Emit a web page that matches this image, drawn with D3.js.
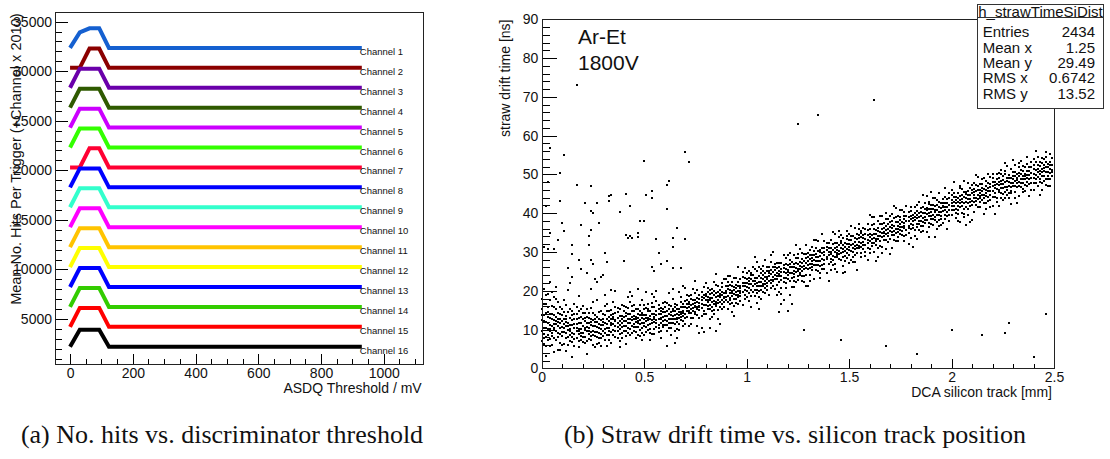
<!DOCTYPE html>
<html>
<head>
<meta charset="utf-8">
<script src="https://cdn.jsdelivr.net/npm/d3@7"></script>
<style>
  body { margin: 0; background: #fff; }
  svg { display: block; }
  text { font-family: "Liberation Sans", Arial, Helvetica, sans-serif; fill: #111; }
  .cap { font-family: "Liberation Serif", "Times New Roman", serif; }
</style>
</head>
<body>
<svg id="fig" width="1110" height="459"></svg>
<script>
// ----------- DATA: (a) threshold scan -----------
const thresholdsMv = [0, 31, 62, 93, 124, 930];
const channelStep = 2010; // "+Channel x 2010"
const channelHits = [
  [190, 1760, 2160, 2160, 190, 190],
  [190, 190, 2130, 2130, 190, 190],
  [190, 2110, 2110, 2110, 190, 190],
  [190, 2100, 2100, 2100, 190, 190],
  [190, 2100, 2100, 2100, 190, 190],
  [190, 2100, 2100, 2100, 190, 190],
  [190, 190, 2120, 2120, 190, 190],
  [190, 2100, 2100, 2100, 190, 190],
  [190, 2100, 2100, 2100, 190, 190],
  [190, 2100, 2100, 2100, 190, 190],
  [190, 2100, 2100, 2100, 190, 190],
  [190, 2100, 2100, 2100, 190, 190],
  [190, 2100, 2100, 2100, 190, 190],
  [190, 2100, 2100, 2100, 190, 190],
  [190, 2100, 2100, 2100, 190, 190],
  [190, 1900, 1900, 1900, 190, 190]
];
const channelColors = ["#1560d0", "#8b0000", "#6a00aa", "#2f5a00", "#cc00ff", "#33ff00", "#ff0033", "#0000ff",
                       "#33ffcc", "#ff00ff", "#ffc400", "#ffff00", "#0000ff", "#33cc00", "#ff0000", "#000000"];
const yTicksA = [5000, 10000, 15000, 20000, 25000, 30000, 35000];
const xTicksA = [0, 200, 400, 600, 800, 1000];

// ----------- DATA: (b) drift time vs DCA -----------
// points as [DCA in 0.01 mm, drift time in 0.1 ns]
const bandHits = [
[0,95],[0,152],[0,178],[1,62],[1,121],[1,88],[1,204],[2,143],[2,103],[2,31],[2,165],[3,74],[3,118],[3,192],[3,132],[4,96],[4,57],[4,141],[4,222],[5,108],[5,83],[5,160],[5,126],[6,41],[6,99],[6,137],[6,185],[7,115],[7,72],[7,152],[7,210],[8,92],[8,128],[8,48],[8,171],[9,105],[9,139],[9,66],[9,118],[1,137],[3,101],[5,92],[7,95],[2,81],[4,112],[6,124],[8,110],[0,124],[9,157],[6,79],[3,159],[5,197],[8,143],[2,120],[4,175],[7,133],[1,103],[9,88],[0,71],[6,113],
[10,83],[10,121],[10,152],[11,94],[11,62],[11,177],[12,108],[12,135],[12,45],[13,99],[13,117],[13,203],[14,86],[14,130],[14,71],[15,112],[15,148],[15,92],[15,28],[16,104],[16,126],[16,167],[17,79],[17,96],[17,141],[18,118],[18,88],[18,55],[18,186],[19,101],[19,132],[19,73],[10,106],[11,128],[12,91],[13,82],[14,112],[15,67],[16,89],[17,115],[18,102],[19,154],[10,61],[12,162],[14,95],[16,141],[18,131],[11,103],[13,146],[15,124],[17,158],[19,92],[12,119],[14,219],[16,76],[18,97],
[20,92],[20,126],[20,68],[21,105],[21,143],[21,81],[22,117],[22,95],[22,38],[23,131],[23,88],[23,104],[24,72],[24,111],[24,156],[25,97],[25,124],[25,61],[26,108],[26,83],[26,137],[27,119],[27,94],[27,176],[28,103],[28,66],[28,128],[29,112],[29,89],[29,147],[20,109],[21,121],[22,132],[23,76],[24,94],[25,85],[26,119],[27,62],[28,91],[29,101],[20,161],[22,71],[24,128],[26,56],[28,114],[21,99],[23,117],[25,143],[27,107],[29,78],[26,231],[27,222],[22,245],[29,236],[24,205],
[30,97],[30,141],[31,118],[31,73],[31,160],[32,128],[32,104],[33,87],[33,149],[33,121],[34,112],[34,64],[34,137],[35,99],[35,126],[35,171],[36,143],[36,109],[36,82],[37,131],[37,117],[37,95],[38,152],[38,123],[38,71],[39,106],[39,135],[39,118],[30,126],[31,102],[32,147],[32,85],[33,105],[34,126],[34,93],[35,114],[36,125],[36,158],[37,78],[37,146],[38,101],[38,112],[39,92],[39,164],[30,111],[33,133],[35,141],[31,190],[36,199],[38,54],[34,203],[32,58],
[40,121],[40,96],[40,148],[41,134],[41,109],[41,83],[42,127],[42,155],[42,116],[43,102],[43,139],[43,171],[44,124],[44,91],[44,147],[45,113],[45,136],[45,128],[46,79],[46,119],[46,152],[47,141],[47,107],[47,131],[48,98],[48,125],[48,162],[49,117],[49,143],[49,104],[40,133],[41,122],[41,158],[42,92],[43,118],[44,109],[45,97],[45,164],[46,133],[46,106],[47,123],[47,86],[48,137],[48,113],[49,129],[49,175],[43,196],[47,204],[41,62],[49,73],[44,186],[42,184],
[50,126],[50,152],[50,109],[51,138],[51,94],[51,121],[52,147],[52,131],[52,166],[53,114],[53,136],[53,102],[54,158],[54,125],[54,89],[55,141],[55,119],[55,133],[56,106],[56,148],[56,174],[57,128],[57,112],[57,139],[58,155],[58,97],[58,131],[59,121],[59,144],[59,168],[50,138],[51,156],[52,112],[52,98],[53,127],[54,141],[55,157],[55,101],[56,125],[57,152],[57,93],[58,118],[58,139],[59,106],[59,133],[54,191],[56,199],[51,197],[58,77],[53,72],[55,183],[50,86],
[60,134],[60,158],[60,112],[61,147],[61,121],[61,169],[62,139],[62,103],[62,152],[63,128],[63,161],[63,144],[64,117],[64,136],[64,178],[65,149],[65,126],[65,95],[66,141],[66,163],[66,131],[67,113],[67,154],[67,138],[68,172],[68,124],[68,146],[69,135],[69,109],[69,157],[60,146],[61,96],[62,127],[63,116],[64,153],[65,137],[65,167],[66,119],[66,102],[67,129],[68,141],[68,184],[69,148],[69,121],[62,193],[64,204],[67,196],[61,58],[66,79],[63,87],[69,212],[65,66],
[70,141],[70,174],[70,114],[71,167],[71,133],[71,155],[72,149],[72,187],[72,109],[72,165],[73,178],[73,143],[73,162],[74,130],[74,166],[74,205],[75,161],[75,139],[75,176],[75,157],[76,201],[76,154],[76,110],[77,150],[77,168],[77,190],[78,175],[78,134],[78,184],[78,165],[79,148],[79,181],[79,210],[70,206],[73,115],[75,225],[77,157],[79,94],[71,190],[74,156],[76,182],[78,104],[72,159],
[80,175],[80,139],[80,192],[81,161],[81,208],[81,170],[82,191],[82,152],[82,175],[82,126],[83,170],[83,205],[83,159],[84,188],[84,139],[84,223],[85,160],[85,183],[85,194],[85,172],[86,213],[86,168],[86,127],[87,183],[87,203],[87,157],[87,192],[88,198],[88,153],[88,210],[89,172],[89,194],[89,229],[80,219],[82,201],[84,166],[85,242],[87,114],[89,185],[81,185],[83,132],[86,186],[88,177],
[90,176],[90,211],[90,193],[91,222],[91,186],[91,153],[92,176],[92,203],[92,238],[93,199],[93,169],[93,213],[93,146],[94,210],[94,192],[94,233],[95,178],[95,206],[95,198],[96,222],[96,166],[96,211],[96,260],[97,195],[97,231],[97,186],[98,211],[98,162],[98,221],[99,202],[99,233],[99,180],[99,211],[90,230],[92,182],[94,135],[95,234],[97,206],[99,258],[91,204],[93,195],[96,190],[98,235],
[100,221],[100,185],[100,245],[101,208],[101,233],[101,174],[102,241],[102,203],[102,218],[102,158],[103,197],[103,225],[103,260],[104,234],[104,187],[104,217],[105,213],[105,250],[105,233],[105,203],[106,261],[106,200],[106,223],[107,211],[107,232],[107,180],[107,246],[108,231],[108,198],[108,252],[109,218],[109,245],[109,280],[109,194],[100,210],[103,211],[105,274],[107,257],[109,225],[101,218],[104,286],[106,154],[108,217],[102,246],
[110,201],[110,250],[110,236],[111,261],[111,225],[111,190],[112,242],[112,219],[112,275],[113,236],[113,260],[113,212],[113,299],[114,253],[114,205],[114,241],[115,230],[115,272],[115,189],[116,252],[116,223],[116,260],[116,238],[117,208],[117,271],[117,249],[118,259],[118,233],[118,292],[118,175],[119,246],[119,270],[119,221],[110,221],[112,291],[114,261],[116,196],[117,255],[119,285],[111,246],[113,224],[115,246],[118,222],
[120,266],[120,230],[120,249],[120,291],[121,224],[121,261],[121,279],[122,245],[122,275],[122,209],[123,261],[123,242],[123,292],[123,252],[124,223],[124,271],[124,259],[125,284],[125,237],[125,268],[126,256],[126,307],[126,245],[126,265],[127,283],[127,225],[127,262],[128,255],[128,277],[128,296],[129,272],[129,241],[129,285],[129,212],[121,190],[124,318],[127,297],[125,252],[123,225],[129,317],
[130,255],[130,298],[130,276],[131,283],[131,240],[131,292],[131,269],[132,254],[132,277],[132,313],[133,291],[133,267],[133,229],[134,277],[134,309],[134,254],[134,287],[135,302],[135,267],[135,327],[136,246],[136,289],[136,277],[137,297],[137,266],[137,310],[137,347],[138,279],[138,291],[138,257],[139,306],[139,288],[139,246],[139,323],[130,212],[133,330],[136,305],[138,328],[132,262],[135,277],
[140,300],[140,269],[140,322],[141,282],[141,310],[141,254],[141,296],[142,321],[142,290],[142,278],[143,269],[143,311],[143,346],[144,305],[144,286],[144,248],[144,323],[145,294],[145,338],[145,302],[146,323],[146,278],[146,311],[147,288],[147,308],[147,335],[147,264],[148,322],[148,302],[148,277],[149,308],[149,333],[149,297],[149,353],[140,226],[142,351],[144,297],[146,343],[148,248],[143,288],
[150,293],[150,320],[150,347],[150,312],[151,330],[151,280],[151,317],[152,310],[152,342],[152,299],[153,361],[153,308],[153,326],[153,274],[154,297],[154,333],[154,319],[155,344],[155,309],[155,371],[156,324],[156,355],[156,288],[156,339],[157,336],[157,307],[157,319],[158,300],[158,347],[158,333],[159,357],[159,322],[159,279],[159,371],[151,367],[154,253],[157,363],[152,275],[159,331],[155,326],
[160,347],[160,308],[160,339],[161,323],[161,370],[161,333],[161,390],[162,360],[162,299],[162,347],[163,333],[163,356],[163,318],[164,380],[164,342],[164,287],[164,362],[165,328],[165,351],[165,373],[166,314],[166,358],[166,338],[166,393],[167,352],[167,330],[167,375],[168,347],[168,368],[168,307],[169,385],[169,341],[169,359],[169,325],[160,396],[163,276],[165,394],[167,348],[168,386],[162,323],
[170,333],[170,365],[170,392],[171,362],[171,343],[171,310],[171,380],[172,354],[172,388],[172,331],[173,378],[173,360],[173,413],[174,327],[174,376],[174,352],[174,366],[175,391],[175,347],[175,373],[176,365],[176,408],[176,343],[177,384],[177,328],[177,375],[177,361],[178,357],[178,393],[178,419],[179,380],[179,350],[179,368],[170,295],[172,419],[174,394],[177,402],[179,321],[175,365],
[180,384],[180,359],[180,406],[180,336],[181,370],[181,395],[181,379],[182,415],[182,357],[182,391],[183,371],[183,387],[183,333],[183,406],[184,428],[184,380],[184,357],[185,367],[185,402],[185,393],[186,417],[186,354],[186,387],[186,446],[187,382],[187,401],[187,375],[188,413],[188,351],[188,397],[189,392],[189,430],[189,375],[189,410],[181,312],[184,401],[186,376],[188,445],[183,420],[189,338],
[190,385],[190,420],[190,402],[191,410],[191,369],[191,440],[191,396],[192,383],[192,418],[192,402],[193,433],[193,396],[193,358],[194,404],[194,452],[194,382],[194,417],[195,426],[195,393],[195,413],[196,374],[196,419],[196,437],[197,426],[197,407],[197,386],[197,466],[198,404],[198,436],[198,416],[199,422],[199,396],[199,452],[190,455],[192,339],[195,369],[196,416],[198,359],[193,422],
[200,433],[200,395],[200,418],[200,461],[201,407],[201,430],[201,452],[202,427],[202,387],[202,443],[203,418],[203,451],[203,407],[203,428],[204,464],[204,416],[204,378],[205,429],[205,446],[205,401],[206,455],[206,427],[206,482],[206,390],[207,417],[207,440],[207,449],[208,447],[208,410],[208,437],[209,429],[209,466],[209,436],[209,377],[201,481],[203,380],[205,463],[207,370],[208,477],[204,434],
[210,420],[210,451],[210,473],[211,448],[211,429],[211,403],[211,462],[212,440],[212,473],[212,422],[213,461],[213,446],[213,494],[214,417],[214,460],[214,439],[214,451],[215,474],[215,433],[215,457],[216,447],[216,491],[216,426],[217,471],[217,411],[217,460],[217,444],[218,441],[218,479],[218,501],[219,467],[219,434],[219,456],[210,382],[212,498],[214,475],[216,398],[218,456],[219,494],
[220,470],[220,443],[220,492],[220,419],[221,453],[221,481],[221,464],[222,501],[222,440],[222,475],[223,454],[223,472],[223,419],[223,491],[224,511],[224,465],[224,440],[225,450],[225,485],[225,475],[226,501],[226,438],[226,467],[226,529],[227,468],[227,484],[227,460],[228,498],[228,438],[228,481],[229,477],[229,513],[229,458],[229,492],[221,399],[224,484],[227,522],[229,424],[223,504],[225,433],
[230,470],[230,506],[230,487],[231,495],[231,455],[231,523],[231,482],[232,468],[232,501],[232,486],[233,518],[233,481],[233,444],[234,489],[234,534],[234,467],[234,500],[235,509],[235,478],[235,495],[236,458],[236,500],[236,519],[237,508],[237,490],[237,469],[237,546],[238,487],[238,518],[238,498],[239,503],[239,479],[239,533],[230,538],[232,427],[235,455],[236,497],[238,444],[233,504],
[240,513],[240,478],[240,501],[240,541],[241,488],[241,511],[241,532],[242,507],[242,470],[242,523],[243,500],[243,531],[243,489],[243,510],[244,542],[244,497],[244,460],[245,508],[245,525],[245,483],[246,532],[246,506],[246,557],[246,472],[247,496],[247,518],[247,526],[248,523],[248,488],[248,514],[249,507],[249,542],[249,512],[241,560],[243,448],[245,541],[247,469],[248,552],[244,513]
];
const bandHitsMore = [
[0,138],[1,167],[1,79],[2,58],[2,189],[3,87],[3,146],[4,129],[4,76],[5,139],[5,61],[6,158],[6,104],[7,121],[7,178],[8,82],[8,119],[9,126],[9,47],[4,101],
[10,137],[10,94],[11,113],[11,146],[12,77],[12,127],[13,108],[13,61],[14,154],[14,102],[15,138],[15,81],[16,115],[16,58],[17,128],[17,105],[18,71],[18,149],[19,116],[19,84],
[20,142],[20,81],[21,131],[21,64],[22,106],[22,152],[23,97],[23,143],[24,119],[24,83],[25,109],[25,171],[26,94],[26,128],[27,133],[27,81],[28,146],[28,79],[29,124],[29,58],
[30,119],[30,84],[31,137],[31,91],[32,114],[32,166],[33,96],[33,74],[34,151],[34,118],[35,87],[35,132],[36,96],[36,121],[37,155],[37,106],[38,134],[38,89],[39,127],[39,78],
[40,109],[40,161],[41,97],[41,143],[42,139],[42,104],[43,128],[43,87],[44,160],[44,133],[45,106],[45,149],[46,126],[46,94],[47,117],[47,152],[48,147],[48,84],[49,138],[49,92],
[50,117],[50,162],[51,131],[51,107],[52,125],[52,154],[53,148],[53,91],[54,116],[54,169],[55,127],[55,88],[56,137],[56,118],[57,163],[57,103],[58,126],[58,147],[59,111],[59,154],
[60,125],[60,171],[61,136],[61,111],[62,162],[62,118],[63,137],[63,104],[64,147],[64,126],[65,158],[65,114],[66,152],[66,127],[67,145],[67,98],[68,133],[68,158],[69,142],[69,166],
[70,158],[70,129],[71,148],[71,176],[72,142],[72,171],[73,152],[73,131],[73,189],[74,147],[74,177],[75,146],[75,168],[75,195],[76,171],[76,137],[77,160],[77,131],[77,178],[78,155],[78,196],[79,163],[79,140],[79,188],[76,158],
[80,164],[80,186],[81,152],[81,177],[81,196],[82,182],[82,164],[83,181],[83,147],[84,174],[84,199],[84,151],[85,167],[85,214],[86,177],[86,150],[86,196],[87,170],[87,186],[88,166],[88,188],[88,221],[89,181],[89,158],[83,193],
[90,183],[90,199],[91,171],[91,212],[92,195],[92,167],[92,214],[93,186],[93,222],[94,179],[94,201],[95,189],[95,215],[95,168],[96,200],[96,184],[97,213],[97,174],[98,196],[98,248],[99,189],[99,220],[91,237],[94,161],[97,199],
[100,199],[100,231],[101,193],[101,224],[102,229],[102,186],[103,213],[103,240],[104,201],[104,224],[104,257],[105,193],[105,221],[106,213],[106,238],[106,184],[107,222],[107,202],[108,211],[108,240],[109,206],[109,235],[101,251],[105,168],[108,264],
[110,229],[110,213],[111,237],[111,251],[112,228],[112,206],[113,249],[113,227],[114,231],[114,268],[115,239],[115,214],[116,244],[116,271],[117,227],[117,238],[118,249],[118,266],[119,234],[119,208],[110,262],[112,254],[115,258],[117,191],[119,257],
[120,254],[120,241],[121,247],[121,270],[122,262],[122,232],[123,270],[123,236],[124,248],[124,285],[125,257],[125,228],[126,274],[126,240],[127,251],[127,272],[128,264],[128,238],[129,259],[129,295],[121,297],[123,209],[125,296],[127,239],[128,222],
[130,266],[130,287],[131,258],[131,306],[132,284],[132,268],[133,279],[133,303],[134,266],[134,296],[135,288],[135,251],[136,300],[136,264],[137,282],[137,255],[138,299],[138,270],[139,281],[139,312],[131,226],[134,331],[136,233],[138,309],[132,293],
[140,291],[140,310],[141,301],[141,273],[142,306],[142,267],[143,299],[143,323],[144,292],[144,313],[145,317],[145,281],[146,297],[146,329],[147,299],[147,318],[148,314],[148,289],[149,321],[149,284],[141,331],[143,255],[145,355],[147,246],[149,341],
[150,304],[150,331],[151,302],[151,342],[152,320],[152,288],[153,336],[153,315],[154,310],[154,346],[155,316],[155,335],[156,312],[156,348],[157,345],[157,325],[158,318],[158,358],[159,344],[159,309],[150,271],[153,292],[155,358],[156,298],[158,289],
[160,327],[160,358],[161,345],[161,315],[162,336],[162,372],[163,347],[163,327],[164,353],[164,333],[165,340],[165,315],[166,348],[166,373],[167,341],[167,362],[168,357],[168,331],[169,349],[169,372],[160,298],[162,389],[164,310],[166,298],[168,401],
[170,355],[170,376],[171,351],[171,370],[172,343],[172,367],[173,348],[173,389],[174,359],[174,339],[175,356],[175,382],[176,377],[176,354],[177,367],[177,393],[178,381],[178,344],[179,389],[179,361],[171,398],[173,328],[175,409],[177,341],[179,404],
[180,372],[180,393],[181,388],[181,361],[182,383],[182,401],[183,396],[183,364],[184,389],[184,371],[185,381],[185,414],[186,400],[186,368],[187,390],[187,411],[188,383],[188,407],[189,401],[189,364],[180,417],[182,340],[185,351],[187,427],[189,424],
[190,393],[190,411],[191,385],[191,421],[192,408],[192,391],[193,409],[193,377],[194,395],[194,429],[195,402],[195,386],[196,427],[196,405],[197,416],[197,396],[198,426],[198,393],[199,409],[199,438],[190,372],[192,438],[194,367],[197,443],[199,381],
[200,409],[200,427],[201,419],[201,441],[202,434],[202,412],[203,438],[203,399],[204,426],[204,445],[205,419],[205,437],[206,441],[206,412],[207,428],[207,455],[208,425],[208,458],[209,447],[209,419],[200,448],[202,401],[204,470],[206,398],[208,395],
[210,431],[210,461],[211,438],[211,454],[212,431],[212,458],[213,437],[213,471],[214,445],[214,428],[215,446],[215,466],[216,462],[216,438],[217,452],[217,482],[218,466],[218,432],[219,476],[219,446],[211,479],[213,415],[215,489],[217,425],[219,417],
[220,457],[220,481],[221,472],[221,442],[222,462],[222,487],[223,481],[223,461],[224,452],[224,476],[225,464],[225,497],[226,480],[226,455],[227,491],[227,448],[228,469],[228,491],[229,468],[229,451],[220,501],[222,429],[224,500],[226,510],[228,452],
[230,478],[230,496],[231,469],[231,507],[232,492],[232,477],[233,497],[233,469],[234,478],[234,512],[235,487],[235,521],[236,487],[236,472],[237,499],[237,481],[238,508],[238,476],[239,491],[239,519],[231,440],[233,529],[235,463],[237,526],[239,461],
[240,491],[240,524],[241,499],[241,478],[242,515],[242,494],[243,521],[243,481],[244,505],[244,529],[245,496],[245,516],[246,489],[246,520],[247,507],[247,488],[248,531],[248,503],[249,495],[249,524],[240,459],[242,546],[244,478],[246,545],[248,471]
];
const strayHits = [
[4,569],[3,480],[9,504],[11,550],[17,731],[17,472],[24,469],[34,446],[41,450],[50,535],[51,446],[54,456],[54,439],[61,473],[62,482],[70,558],[72,532],
[2,419],[9,431],[10,375],[11,353],[8,332],[1,313],[3,307],[6,307],[4,349],[15,319],[13,258],[15,295],[19,370],[18,280],[19,256],[15,235],[21,425],[24,405],[25,400],[27,426],[28,375],[24,357],[23,340],[23,319],[24,280],[25,270],[31,297],[32,273],[33,445],[33,432],[30,241],[38,402],[43,419],[40,276],[41,343],[42,336],[43,340],[44,336],[47,349],[47,338],[48,379],[50,379],[56,333],[54,260],[55,250],[57,297],[58,270],[61,412],[61,276],[64,336],[64,314],[66,362],[64,259],[70,333],[68,258],
[125,630],[135,654],[162,693],[128,99],[146,72],[168,58],[183,38],[200,99],[215,85],[226,91],[228,117],[240,28],[246,141],
[116,144],[120,149],[117,166],[122,166],[85,96],[82,103],[77,90]
];
const xTicksB = [0, 0.5, 1, 1.5, 2, 2.5];
const yTicksB = [0, 10, 20, 30, 40, 50, 60, 70, 80, 90];
const statRows = [["Entries", "2434"], ["Mean x", "1.25"], ["Mean y", "29.49"], ["RMS x", "0.6742"], ["RMS y", "13.52"]];

// ----------- DRAWING -----------
const svg = d3.select("#fig");

function styleAxis(sel, size) {
  sel.select(".domain").remove();
  sel.selectAll("line").attr("stroke", "#000").attr("shape-rendering", "crispEdges");
  sel.selectAll("text").attr("font-size", size).attr("fill", "#111");
}

// ---- panel (a)
const xA = d3.scaleLinear().domain([-48, 1126]).range([55, 423.3]);
const yA = d3.scaleLinear().domain([430, 35900]).range([364.3, 12.7]);
const gA = svg.append("g");

gA.append("g").attr("transform", "translate(55.5,0)")
  .call(d3.axisLeft(yA).tickValues(d3.range(1000, 35501, 1000)).tickSizeInner(-6).tickSizeOuter(0).tickFormat(""))
  .call(styleAxis, 14);
gA.append("g").attr("transform", "translate(55.5,0)")
  .call(d3.axisLeft(yA).tickValues(yTicksA).tickSizeInner(-12).tickSizeOuter(0).tickPadding(3.5).tickFormat(d3.format("d")))
  .call(styleAxis, 14);
gA.append("g").attr("transform", "translate(0,364.5)")
  .call(d3.axisBottom(xA).tickValues(d3.range(0, 1101, 50)).tickSizeInner(-6).tickSizeOuter(0).tickFormat(""))
  .call(styleAxis, 14);
gA.append("g").attr("transform", "translate(0,364.5)")
  .call(d3.axisBottom(xA).tickValues(xTicksA).tickSizeInner(-11).tickSizeOuter(0).tickPadding(4).tickFormat(d3.format("d")))
  .call(styleAxis, 14);

const lineA = d3.line().x((d, i) => xA(thresholdsMv[i])).y(d => yA(d));
channelHits.forEach((hits, i) => {
  const ch = i + 1;
  const vals = hits.map(h => h + (17 - ch) * channelStep);
  gA.append("path")
    .attr("d", lineA(vals))
    .attr("fill", "none")
    .attr("stroke", channelColors[i])
    .attr("stroke-width", 4);
  gA.append("text")
    .attr("x", xA(thresholdsMv[thresholdsMv.length - 1]) - 2)
    .attr("y", yA(vals[vals.length - 1]) + 7)
    .attr("font-size", 9.5)
    .text("Channel " + ch);
});

gA.append("rect").attr("x", 55.5).attr("y", 12.5).attr("width", 368).attr("height", 352)
  .attr("fill", "none").attr("stroke", "#222").attr("shape-rendering", "crispEdges");

gA.append("text").attr("transform", "translate(21,13.5) rotate(-90)")
  .attr("text-anchor", "end").attr("font-size", 14.5)
  .text("Mean No. Hits Per Trigger (+Channel x 2010)");
gA.append("text").attr("x", 421.7).attr("y", 393).attr("text-anchor", "end").attr("font-size", 14)
  .text("ASDQ Threshold / mV");

// ---- panel (b)
const xB = d3.scaleLinear().domain([0, 2.5]).range([541.7, 1054]);
const yB = d3.scaleLinear().domain([0, 90]).range([368.3, 19.3]);
const gB = svg.append("g");

gB.append("g").attr("transform", "translate(542,0)")
  .call(d3.axisLeft(yB).tickValues(d3.range(0, 91, 2)).tickSizeInner(-7.5).tickSizeOuter(0).tickFormat(""))
  .call(styleAxis, 14);
gB.append("g").attr("transform", "translate(542,0)")
  .call(d3.axisLeft(yB).tickValues(yTicksB).tickSizeInner(-15).tickSizeOuter(0).tickPadding(3.7))
  .call(styleAxis, 14);
gB.append("g").attr("transform", "translate(0,368.5)")
  .call(d3.axisBottom(xB).tickValues(d3.range(0, 26).map(v => v / 10)).tickSizeInner(-5).tickSizeOuter(0).tickFormat(""))
  .call(styleAxis, 14);
gB.append("g").attr("transform", "translate(0,368.5)")
  .call(d3.axisBottom(xB).tickValues(xTicksB).tickSizeInner(-10).tickSizeOuter(0).tickPadding(3.5).tickFormat(d3.format("")))
  .call(styleAxis, 14);

gB.append("g").selectAll("rect")
  .data(bandHits.concat(bandHitsMore, strayHits))
  .enter()
  .append("rect")
  .attr("x", d => Math.round(xB(d[0] / 100)) - 1)
  .attr("y", d => Math.round(yB(d[1] / 10)) - 1)
  .attr("width", 2)
  .attr("height", 2)
  .attr("fill", "#000")
  .attr("shape-rendering", "crispEdges");

gB.append("rect").attr("x", 542).attr("y", 19.5).attr("width", 512).attr("height", 349)
  .attr("fill", "none").attr("stroke", "#222").attr("shape-rendering", "crispEdges");

gB.append("text").attr("transform", "translate(510,19.5) rotate(-90)")
  .attr("text-anchor", "end").attr("font-size", 14)
  .text("straw drift time [ns]");
gB.append("text").attr("x", 1052).attr("y", 397).attr("text-anchor", "end").attr("font-size", 14)
  .text("DCA silicon track [mm]");

gB.append("text").attr("x", 578).attr("y", 43.5).attr("font-size", 21).text("Ar-Et");
gB.append("text").attr("x", 578).attr("y", 70).attr("font-size", 21).text("1800V");

// stats box
const box = gB.append("g");
box.append("rect").attr("x", 977.5).attr("y", 4.5).attr("width", 126).attr("height", 104)
  .attr("fill", "#fff").attr("stroke", "#333").attr("shape-rendering", "crispEdges");
box.append("line").attr("x1", 977.5).attr("x2", 1103.5).attr("y1", 17.5).attr("y2", 17.5)
  .attr("stroke", "#333").attr("shape-rendering", "crispEdges");
box.append("text").attr("x", 1040.5).attr("y", 16.5).attr("text-anchor", "middle").attr("font-size", 15)
  .text("h_strawTimeSiDist");
statRows.forEach((r, i) => {
  box.append("text").attr("x", 982.7).attr("y", 37.3 + i * 15.3).attr("font-size", 15).text(r[0]);
  box.append("text").attr("x", 1095).attr("y", 37.3 + i * 15.3).attr("text-anchor", "end").attr("font-size", 15).text(r[1]);
});

// captions
svg.append("text").attr("class", "cap").attr("x", 222).attr("y", 443).attr("text-anchor", "middle")
  .attr("font-size", 26).text("(a) No. hits vs. discriminator threshold");
svg.append("text").attr("class", "cap").attr("x", 795).attr("y", 443).attr("text-anchor", "middle")
  .attr("font-size", 26).text("(b) Straw drift time vs. silicon track position");
</script>
</body>
</html>
